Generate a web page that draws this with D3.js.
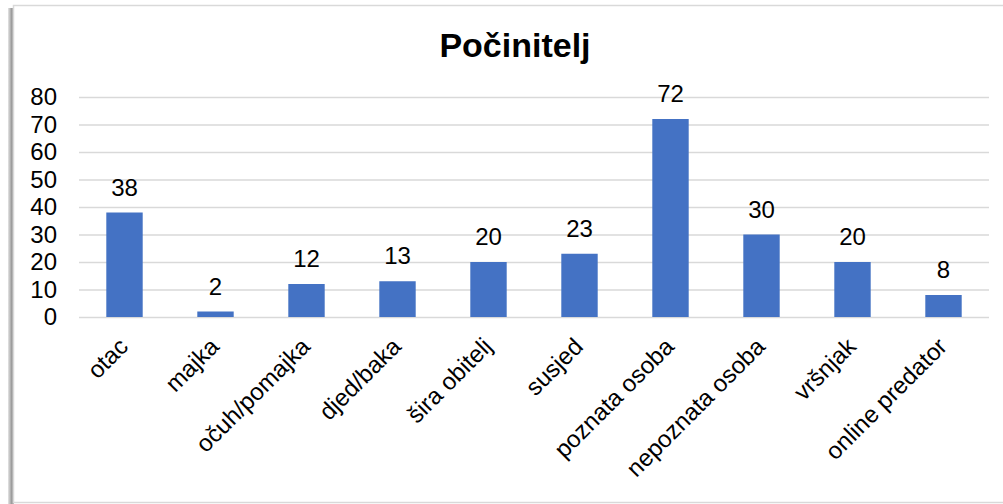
<!DOCTYPE html>
<html><head><meta charset="utf-8">
<script src="https://cdn.jsdelivr.net/npm/d3@7"></script>
<style>body{margin:0;background:#fff}svg{display:block;font-family:"Liberation Sans",Arial,sans-serif}</style>
</head><body><svg id="c" width="1003" height="504"></svg>
<script>
const categories = ["otac","majka","očuh/pomajka","djed/baka","šira obitelj","susjed","poznata osoba","nepoznata osoba","vršnjak","online predator"];
const values = [38,2,12,13,20,23,72,30,20,8];
const yTicks = [0,10,20,30,40,50,60,70,80];
const title = "Počinitelj";

const svg = d3.select("#c");
// frame with shadow
const defs = svg.append("defs");
const g1 = defs.append("linearGradient").attr("id","sh").attr("x1",0).attr("x2",1);
g1.append("stop").attr("offset",0).attr("stop-color","#e6e6e6");
g1.append("stop").attr("offset",0.6).attr("stop-color","#9a9a9a");
g1.append("stop").attr("offset",1).attr("stop-color","#bcbcbc");
svg.append("rect").attr("x",8).attr("y",8).attr("width",6).attr("height",496).attr("fill","url(#sh)");
svg.append("rect").attr("x",13.5).attr("y",5.5).attr("width",995).attr("height",497).attr("fill","#fff").attr("stroke","#d9d9d9").attr("stroke-width",1.5);

const x = d3.scaleBand().domain(categories).range([79,989]).paddingInner(0.6).paddingOuter(0.3);
const y = d3.scaleLinear().domain([0,80]).range([317,97]);

// gridlines
svg.append("g").selectAll("line").data(yTicks).join("line")
  .attr("x1",79).attr("x2",989).attr("y1",d=>y(d)+0.5).attr("y2",d=>y(d)+0.5)
  .attr("stroke","#d9d9d9").attr("stroke-width",1.5);

// y axis labels
const ya = svg.append("g").attr("transform","translate(57,0)").call(d3.axisLeft(y).tickValues(yTicks).tickSize(0).tickPadding(0));
ya.select(".domain").remove();
ya.selectAll("text").attr("font-size",24).attr("fill","#000").attr("font-family","Liberation Sans, Arial, sans-serif");

// bars
svg.append("g").selectAll("rect").data(values).join("rect")
  .attr("x",(d,i)=>x(categories[i])).attr("width",x.bandwidth())
  .attr("y",d=>y(d)).attr("height",d=>y(0)-y(d)).attr("fill","#4472C4");

// value labels
svg.append("g").selectAll("text").data(values).join("text")
  .attr("x",(d,i)=>x(categories[i])+x.bandwidth()/2).attr("y",d=>y(d)-17)
  .attr("text-anchor","middle").attr("font-size",24).attr("fill","#000").text(d=>d);

// x axis labels
const xa = svg.append("g").attr("transform","translate(0,317)").call(d3.axisBottom(x).tickSize(0).tickPadding(0));
xa.select(".domain").remove();
xa.selectAll("text").attr("font-size",24).attr("fill","#000").attr("font-family","Liberation Sans, Arial, sans-serif")
  .attr("text-anchor","end").attr("dy",0).attr("y",0)
  .attr("transform","translate(5,31) rotate(-45)");

// title
svg.append("text").attr("x",515).attr("y",57).attr("text-anchor","middle")
  .attr("font-size",34).attr("font-weight","bold").attr("fill","#000").text(title);
</script></body></html>
